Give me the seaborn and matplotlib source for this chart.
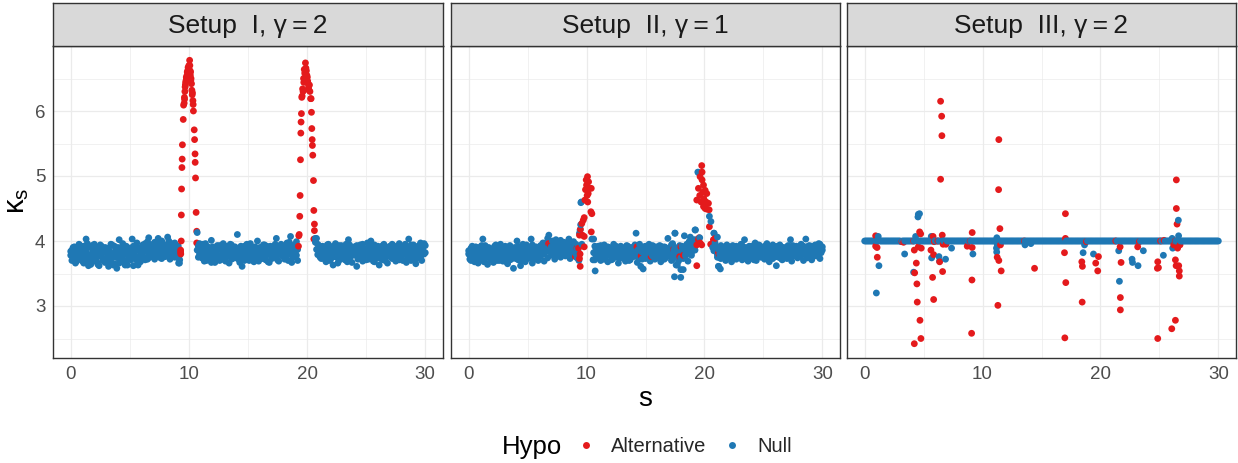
import matplotlib
matplotlib.use("Agg")
import matplotlib.pyplot as plt
from matplotlib.ticker import MultipleLocator
from matplotlib.lines import Line2D
import numpy as np
import pandas as pd
import seaborn as sns

# ---------------- data ----------------
panel_titles = ["Setup  I, γ\u2009=\u20092", "Setup  II, γ\u2009=\u20091", "Setup  III, γ\u2009=\u20092"]
hypo_levels = ["Alternative", "Null"]
x_ticks = [0, 10, 20, 30]
y_ticks = [3, 4, 5, 6]

s_grid = [
    0.0, 0.1, 0.2, 0.3, 0.4, 0.5, 0.6, 0.7, 0.8, 0.9,
    1.0, 1.1, 1.2, 1.3, 1.4, 1.5, 1.6, 1.7, 1.8, 1.9,
    2.0, 2.1, 2.2, 2.3, 2.4, 2.5, 2.6, 2.7, 2.8, 2.9,
    3.0, 3.1, 3.2, 3.3, 3.4, 3.5, 3.6, 3.7, 3.8, 3.9,
    4.0, 4.1, 4.2, 4.3, 4.4, 4.5, 4.6, 4.7, 4.8, 4.9,
    5.0, 5.1, 5.2, 5.3, 5.4, 5.5, 5.6, 5.7, 5.8, 5.9,
    6.0, 6.1, 6.2, 6.3, 6.4, 6.5, 6.6, 6.7, 6.8, 6.9,
    7.0, 7.1, 7.2, 7.3, 7.4, 7.5, 7.6, 7.7, 7.8, 7.9,
    8.0, 8.1, 8.2, 8.3, 8.4, 8.5, 8.6, 8.7, 8.8, 8.9,
    9.0, 9.1, 9.2, 9.3, 9.4, 9.5, 9.6, 9.7, 9.8, 9.9,
    10.0, 10.1, 10.2, 10.3, 10.4, 10.5, 10.6, 10.7, 10.8, 10.9,
    11.0, 11.1, 11.2, 11.3, 11.4, 11.5, 11.6, 11.7, 11.8, 11.9,
    12.0, 12.1, 12.2, 12.3, 12.4, 12.5, 12.6, 12.7, 12.8, 12.9,
    13.0, 13.1, 13.2, 13.3, 13.4, 13.5, 13.6, 13.7, 13.8, 13.9,
    14.0, 14.1, 14.2, 14.3, 14.4, 14.5, 14.6, 14.7, 14.8, 14.9,
    15.0, 15.1, 15.2, 15.3, 15.4, 15.5, 15.6, 15.7, 15.8, 15.9,
    16.0, 16.1, 16.2, 16.3, 16.4, 16.5, 16.6, 16.7, 16.8, 16.9,
    17.0, 17.1, 17.2, 17.3, 17.4, 17.5, 17.6, 17.7, 17.8, 17.9,
    18.0, 18.1, 18.2, 18.3, 18.4, 18.5, 18.6, 18.7, 18.8, 18.9,
    19.0, 19.1, 19.2, 19.3, 19.4, 19.5, 19.6, 19.7, 19.8, 19.9,
    20.0, 20.1, 20.2, 20.3, 20.4, 20.5, 20.6, 20.7, 20.8, 20.9,
    21.0, 21.1, 21.2, 21.3, 21.4, 21.5, 21.6, 21.7, 21.8, 21.9,
    22.0, 22.1, 22.2, 22.3, 22.4, 22.5, 22.6, 22.7, 22.8, 22.9,
    23.0, 23.1, 23.2, 23.3, 23.4, 23.5, 23.6, 23.7, 23.8, 23.9,
    24.0, 24.1, 24.2, 24.3, 24.4, 24.5, 24.6, 24.7, 24.8, 24.9,
    25.0, 25.1, 25.2, 25.3, 25.4, 25.5, 25.6, 25.7, 25.8, 25.9,
    26.0, 26.1, 26.2, 26.3, 26.4, 26.5, 26.6, 26.7, 26.8, 26.9,
    27.0, 27.1, 27.2, 27.3, 27.4, 27.5, 27.6, 27.7, 27.8, 27.9,
    28.0, 28.1, 28.2, 28.3, 28.4, 28.5, 28.6, 28.7, 28.8, 28.9,
    29.0, 29.1, 29.2, 29.3, 29.4, 29.5, 29.6, 29.7, 29.8, 29.9,
    30.0,
]

N = None  # no null point at this s

# Setup I: two null-hypothesis readings per s on s_grid
k_null_1 = [
    3.78, 3.86, 3.72, 3.91, 3.80, 3.69, 3.84, 3.75, 3.93, 3.71,
    3.82, 3.66, 3.88, 4.03, 3.74, 3.62, 3.90, 3.79, 3.68, 3.85,
    3.95, 3.73, 3.81, 3.64, 3.87, 3.77, 3.92, 3.70, 3.83, 3.67,
    3.89, 3.76, 3.61, 3.84, 3.72, 3.94, 3.80, 3.65, 3.86, 3.58,
    3.74, 4.02, 3.69, 3.83, 3.77, 3.91, 3.63, 3.80, 3.71, 3.88,
    3.75, 3.84, 4.03, 3.62, 3.79, 3.93, 3.70, 3.86, 3.76, 3.68,
    3.90, 3.81, 3.74, 3.96, 3.85, 3.72, 4.05, 3.88, 3.79, 3.93,
    3.83, 3.98, 3.76, 3.91, 4.04, 3.80, 3.87, 3.73, 3.95, 3.84,
    3.89, 3.78, 4.06, 3.86, 3.93, 3.75, 3.90, 3.82, 3.97, 3.79,
    3.88, 3.74, 3.66, N, N, N, N, N, N, N,
    N, N, N, N, N, N, N, 4.13, 3.92, 3.80,
    3.86, 3.74, 3.95, 3.69, 3.83, 3.78, 3.91, 3.72, 3.85, 4.01,
    3.77, 3.88, 3.67, 3.82, 3.93, 3.75, 3.70, 3.87, 3.79, 3.96,
    3.71, 3.84, 3.76, 3.90, 3.66, 3.81, 3.94, 3.73, 3.86, 3.78,
    3.83, 4.10, 3.72, 3.89, 3.77, 3.61, 3.85, 3.92, 3.74, 3.80,
    3.87, 3.70, 3.96, 3.79, 3.84, 3.68, 3.91, 3.75, 4.00, 3.82,
    3.76, 3.89, 3.73, 3.85, 3.94, 3.71, 3.80, 3.87, 3.67, 3.92,
    3.81, 3.74, 3.90, 3.78, 4.04, 3.86, 3.69, 3.83, 3.95, 3.77,
    3.88, 3.72, 3.84, 3.97, 3.79, 3.91, 4.07, 3.85, 3.75, 3.93,
    3.82, 3.99, 3.70, N, N, N, N, N, N, N,
    N, N, N, N, N, N, N, 4.04, 4.04, 3.95,
    3.80, 3.89, 3.73, 3.92, 3.77, 3.85, 3.68, 3.94, 3.79, 3.86,
    3.72, 3.90, 3.63, 3.83, 3.96, 3.75, 3.88, 3.70, 3.81, 3.93,
    3.77, 3.86, 3.71, 3.95, 3.80, 4.02, 3.74, 3.89, 3.67, 3.84,
    3.91, 3.78, 3.61, 3.87, 3.73, 3.94, 3.82, 3.69, 3.88, 3.76,
    3.85, 3.97, 3.72, 3.83, 4.00, 3.77, 3.90, 3.68, 3.86, 3.74,
    3.92, 3.63, 3.80, 3.88, 3.71, 3.95, 3.79, 3.84, 3.66, 3.90,
    3.76, 3.87, 3.73, 3.93, 3.82, 3.69, 3.89, 3.78, 3.96, 3.74,
    3.85, 3.70, 3.91, 3.81, 3.67, 3.88, 4.03, 3.77, 3.94, 3.83,
    3.72, 3.89, 3.65, 3.86, 3.79, 3.93, 3.75, 3.84, 3.91, 3.80,
    3.93,
]
k_null_1b = [
    3.84, 3.70, 3.90, 3.77, 3.66, 3.88, 3.74, 3.95, 3.81, 3.86,
    3.69, 3.92, 3.78, 3.83, 3.96, 3.71, 3.79, 3.64, 3.93, 3.75,
    3.80, 3.91, 3.68, 3.87, 3.62, 3.94, 3.76, 3.85, 3.73, 3.90,
    3.71, 3.83, 3.89, 3.68, 3.95, 3.79, 3.63, 3.92, 3.75, 3.81,
    3.90, 3.66, 3.86, 3.75, 3.96, 3.70, 3.84, 3.92, 3.63, 3.79,
    3.89, 3.71, 3.80, 3.92, 3.86, 3.74, 3.97, 3.63, 3.89, 3.82,
    3.77, 3.94, 3.86, 3.71, 3.91, 3.99, 3.80, 3.75, 3.94, 3.87,
    3.95, 3.72, 3.88, 3.82, 3.78, 3.96, 3.74, 4.00, 3.81, 3.90,
    3.76, 3.94, 3.85, 4.00, 3.72, 3.88, 3.80, 3.96, 3.75, 3.91,
    3.82, 3.92, 3.78, N, N, N, N, N, N, N,
    N, N, N, N, N, N, N, 3.86, 3.75, 3.96,
    3.79, 3.90, 3.73, 3.85, 3.96, 3.70, 3.82, 3.88, 3.76, 3.67,
    3.91, 3.75, 3.84, 3.79, 3.71, 3.89, 3.93, 3.78, 3.86, 3.74,
    3.88, 3.69, 3.92, 3.82, 3.79, 3.95, 3.72, 3.85, 3.76, 3.91,
    3.74, 3.86, 3.81, 3.67, 3.92, 3.83, 3.76, 3.70, 3.89, 3.95,
    3.78, 3.93, 3.84, 3.72, 3.90, 3.81, 3.73, 3.87, 3.77, 3.69,
    3.90, 3.79, 3.86, 3.94, 3.75, 3.83, 3.92, 3.68, 3.85, 3.78,
    3.73, 3.88, 3.83, 3.95, 3.77, 3.71, 3.90, 3.80, 3.86, 3.92,
    3.79, 3.91, 3.76, 3.86, 3.70, 3.98, 3.81, 3.67, 3.93, 3.84,
    3.92, 3.78, 3.87, N, N, N, N, N, N, N,
    N, N, N, N, N, N, N, 3.98, 3.87, 3.79,
    3.93, 3.75, 3.86, 3.81, 3.90, 3.72, 3.84, 3.78, 3.95, 3.70,
    3.87, 3.80, 3.92, 3.76, 3.84, 3.89, 3.66, 3.93, 3.78, 3.86,
    3.91, 3.73, 3.85, 3.80, 3.68, 3.88, 3.94, 3.76, 3.83, 3.90,
    3.79, 3.87, 3.93, 3.72, 3.85, 3.81, 3.90, 3.95, 3.74, 3.82,
    3.71, 3.89, 3.80, 3.92, 3.76, 3.86, 3.69, 3.94, 3.79, 3.88,
    3.84, 3.90, 3.73, 3.79, 3.93, 3.82, 3.70, 3.89, 3.87, 3.77,
    3.92, 3.80, 3.95, 3.74, 3.88, 3.83, 3.78, 3.91, 3.71, 3.86,
    3.76, 3.92, 3.82, 3.95, 3.89, 3.74, 3.85, 3.91, 3.70, 3.87,
    3.94, 3.78, 3.88, 3.73, 3.92, 3.83, 3.97, 3.70, 3.86, 3.96,
    3.82,
]
s_nx_1 = [9.13, 9.22]
k_nx_1 = [3.66, 3.71]

s_alt_1 = [
    9.30, 9.30, 9.31, 9.35, 9.36, 9.38, 9.41, 9.43, 9.45, 9.52,
    9.55, 9.60, 9.62, 9.63, 9.66, 9.68, 9.70, 9.72, 9.76, 9.78,
    9.80, 9.84, 9.86, 9.90, 9.93, 9.96, 10.00, 10.06, 10.08, 10.10,
    10.12, 10.14, 10.16, 10.18, 10.22, 10.25, 10.28, 10.30, 10.34, 10.36,
    10.38, 10.45, 10.48, 10.52, 10.53, 10.56, 10.61, 10.66, 10.66,
    19.27, 19.30, 19.33, 19.38, 19.41, 19.44, 19.47, 19.49, 19.52, 19.55,
    19.58, 19.62, 19.66, 19.70, 19.72, 19.76, 19.80, 19.84, 19.86, 19.90,
    19.94, 19.98, 20.02, 20.05, 20.08, 20.12, 20.16, 20.20, 20.24, 20.30,
    20.34, 20.37, 20.40, 20.43, 20.45, 20.48, 20.54, 20.57, 20.62, 20.62,
    20.57,
]
k_alt_1 = [
    3.83, 3.86, 3.80, 4.00, 4.40, 4.80, 5.13, 5.26, 5.48, 5.87,
    6.09, 6.12, 6.21, 6.18, 6.30, 6.37, 6.40, 6.44, 6.47, 6.52,
    6.50, 6.55, 6.60, 6.62, 6.67, 6.64, 6.70, 6.78, 6.70, 6.62,
    6.55, 6.60, 6.47, 6.50, 6.42, 6.32, 6.25, 6.28, 6.16, 6.10,
    6.00, 5.71, 5.56, 5.34, 5.21, 4.97, 4.44, 4.15, 3.97,
    3.92, 4.08, 4.10, 4.38, 4.70, 5.25, 5.66, 5.83, 5.96, 6.21,
    6.23, 6.34, 6.30, 6.50, 6.44, 6.64, 6.58, 6.60, 6.74, 6.66,
    6.62, 6.55, 6.52, 6.46, 6.42, 6.36, 6.32, 6.40, 6.30, 6.19,
    6.19, 5.98, 5.73, 5.56, 5.47, 5.32, 4.93, 4.47, 4.26, 4.16,
    4.03,
]

# Setup II
k_null_2 = [
    3.80, 3.72, 3.89, 3.76, 3.84, 3.68, 3.91, 3.78, 3.66, 3.86,
    3.74, 3.93, 4.03, 3.70, 3.82, 3.77, 3.64, 3.88, 3.73, 3.85,
    3.79, 3.67, 3.92, 3.81, 3.75, 3.87, 3.70, 3.95, 3.83, 3.69,
    3.86, 3.74, 3.90, 3.65, 3.80, 3.93, 3.72, 3.84, 3.58, 3.77,
    3.89, 4.00, 3.71, 3.83, 3.62, 3.91, 3.76, 3.85, 3.68, 3.94,
    3.73, 3.87, 3.79, 4.03, 3.66, 3.84, 3.90, 3.75, 3.81, 3.70,
    3.88, 3.76, 3.93, 3.82, 3.69, 3.86, 3.97, 3.74, 4.09, 3.83,
    3.91, 3.78, 3.95, 3.72, 4.02, 3.85, 3.80, 3.89, 3.75, 3.93,
    3.84, 3.98, 3.77, 3.90, 3.81, 4.03, 3.73, 3.87, 3.92, 3.79,
    3.86, 3.95, 3.74, 3.83, N, N, N, N, N, N,
    N, N, N, N, N, N, 4.03, 3.71, 3.88, 3.76,
    3.92, 3.81, 3.70, 3.87, 3.78, 3.94, 3.73, 3.85, 3.68, 3.90,
    3.79, 3.86, 3.72, 3.95, 3.83, 3.75, 3.89, 3.66, 3.81, 3.92,
    3.74, 3.88, 3.80, 3.69, 3.93, 3.77, 3.85, 3.71, 3.90, 3.82,
    3.76, 3.94, 4.12, 3.67, 3.87, 3.79, 3.61, 3.83, 3.57, 3.91,
    3.73, 3.86, 3.80, 3.95, 3.69, 3.84, 3.77, 3.90, 3.72, 3.88,
    3.81, 3.75, 3.93, 3.68, 3.86, 3.79, 3.91, 3.74, 3.84, 4.04,
    3.77, 3.89, 3.70, 3.96, 3.82, 4.12, 3.63, 3.87, 3.75, 3.93,
    3.56, 3.85, 3.73, 4.08, 3.80, 3.91, 3.69, 3.86, 4.06, 3.78,
    3.88, 3.94, 4.17, N, N, N, N, N, N, N,
    N, N, N, N, N, N, N, N, 4.12, 3.92,
    3.85, 4.06, 3.61, 3.80, 3.73, 3.91, 3.77, 3.86, 3.70, 3.94,
    3.82, 3.75, 3.89, 3.68, 3.93, 3.79, 3.84, 3.72, 3.90, 3.81,
    3.76, 3.95, 3.71, 3.87, 4.02, 3.78, 3.85, 3.69, 3.92, 3.80,
    3.74, 3.88, 3.83, 3.97, 3.70, 3.86, 3.79, 3.93, 3.75, 3.84,
    3.90, 3.72, 3.81, 3.96, 3.77, 3.68, 3.89, 3.85, 3.73, 3.92,
    3.80, 3.62, 3.87, 3.75, 3.94, 3.82, 3.71, 3.90, 3.78, 3.86,
    3.73, 3.93, 3.84, 4.02, 3.69, 3.88, 3.77, 3.91, 3.80, 3.74,
    3.89, 3.76, 3.95, 3.83, 3.70, 3.87, 4.03, 3.79, 3.92, 3.75,
    3.84, 3.71, 3.90, 3.81, 3.94, 3.77, 3.86, 3.96, 3.73, 3.88,
    3.91,
]
k_null_2b = [
    3.85, 3.78, 3.70, 3.92, 3.80, 3.87, 3.74, 3.89, 3.82, 3.73,
    3.91, 3.79, 3.86, 3.68, 3.93, 3.81, 3.75, 3.90, 3.84, 3.71,
    3.88, 3.76, 3.83, 3.94, 3.70, 3.80, 3.91, 3.77, 3.86, 3.74,
    3.79, 3.92, 3.68, 3.85, 3.76, 3.71, 3.89, 3.80, 3.74, 3.90,
    3.73, 3.84, 3.92, 3.77, 3.88, 3.70, 3.95, 3.81, 3.92, 3.75,
    3.90, 3.79, 3.86, 3.73, 3.94, 3.80, 3.72, 3.91, 3.84, 3.87,
    3.78, 3.93, 3.85, 3.97, 3.80, 3.90, 3.84, 4.04, 3.89, 3.94,
    3.86, 4.00, 3.82, 3.93, 3.89, 3.79, 3.96, 3.84, 4.01, 3.88,
    3.95, 3.81, 3.90, 3.86, 3.97, 3.83, 3.92, 3.79, 3.87, 3.99,
    3.91, 3.80, 3.88, 3.92, N, N, N, N, N, N,
    N, N, N, N, N, N, 3.82, 3.92, 3.78, 3.87,
    3.84, 3.75, 3.93, 3.80, 3.89, 3.72, 3.86, 3.78, 3.91, 3.82,
    3.87, 3.71, 3.90, 3.78, 3.85, 3.92, 3.76, 3.83, 3.89, 3.74,
    3.90, 3.81, 3.73, 3.86, 3.79, 3.92, 3.70, 3.88, 3.77, 3.85,
    3.83, 3.78, 3.91, 3.85, 3.74, 3.95, 3.82, 3.72, 3.87, 3.80,
    3.92, 3.77, 3.88, 3.73, 3.86, 3.80, 3.93, 3.76, 3.84, 3.91,
    3.74, 3.87, 3.81, 3.92, 3.78, 3.85, 3.72, 3.90, 3.83, 3.79,
    3.88, 3.80, 3.94, 3.72, 3.86, 3.90, 3.78, 3.83, 3.69, 3.87,
    3.74, 3.92, 3.81, 3.88, 3.77, 3.95, 3.84, 3.99, 3.90, 3.82,
    3.93, 4.02, 3.86, N, N, N, N, N, N, N,
    N, N, N, N, N, N, N, N, 3.85, 3.97,
    3.90, 3.79, 3.87, 3.74, 3.93, 3.82, 3.88, 3.76, 3.91, 3.83,
    3.78, 3.91, 3.84, 3.89, 3.73, 3.86, 3.80, 3.92, 3.75, 3.88,
    3.89, 3.81, 3.93, 3.77, 3.85, 3.90, 3.72, 3.87, 3.82, 3.76,
    3.92, 3.79, 3.71, 3.86, 3.88, 3.76, 3.94, 3.81, 3.85, 3.90,
    3.78, 3.89, 3.93, 3.82, 3.87, 3.91, 3.74, 3.80, 3.94, 3.79,
    3.88, 3.76, 3.92, 3.84, 3.79, 3.73, 3.90, 3.83, 3.87, 3.75,
    3.91, 3.80, 3.76, 3.89, 3.85, 3.93, 3.82, 3.78, 3.92, 3.86,
    3.77, 3.90, 3.84, 3.79, 3.92, 3.82, 3.88, 3.74, 3.86, 3.93,
    3.80, 3.92, 3.85, 3.77, 3.89, 3.83, 3.91, 3.81, 3.95, 3.82,
    3.86,
]
s_nx_2 = [
    9.40, 9.45, 9.50, 9.52, 9.55, 9.35, 9.60, 10.55, 10.73, 10.45,
    19.44, 19.50, 19.24, 19.30, 19.60, 20.42, 20.55, 20.82, 20.70, 21.19,
    21.35, 21.00, 21.10, 17.46, 17.99, 18.20, 17.70, 17.50,
]
k_nx_2 = [
    4.12, 4.17, 4.25, 4.59, 4.60, 3.70, 3.95, 3.71, 3.54, 4.03,
    5.06, 5.05, 4.17, 4.02, 4.05, 4.38, 4.30, 4.12, 3.90, 3.61,
    3.57, 3.85, 3.75, 3.45, 3.44, 3.56, 3.63, 4.12,
]
s_alt_2 = [
    9.46, 9.40, 9.32, 9.45, 9.40, 9.48, 9.60, 9.72, 9.80, 9.65,
    9.86, 9.91, 9.97, 10.08, 10.17, 10.22, 10.14, 10.00, 10.05, 10.40,
    10.45, 10.37, 10.40, 9.80, 9.80, 9.18, 9.05, 6.78, 6.92, 10.10,
    14.27, 14.63, 15.48, 17.37, 18.00, 18.20, 17.90,
    19.77, 19.80, 19.63, 19.80, 19.49, 19.92, 20.06, 20.20, 19.35, 19.72,
    20.14, 20.34, 19.92, 20.06, 20.20, 20.40, 19.60, 19.85, 19.95, 19.35,
    19.49, 19.63, 19.77, 19.35, 20.42, 20.53, 20.76, 20.90, 21.27, 21.19,
    19.55,
]
k_alt_2 = [
    3.61, 3.73, 3.89, 3.80, 4.09, 4.18, 4.27, 4.32, 4.36, 4.09,
    4.63, 4.79, 4.94, 4.99, 4.91, 4.81, 4.73, 4.86, 4.70, 4.81,
    4.42, 4.45, 4.14, 4.07, 3.91, 3.89, 3.76, 3.96, 3.94, 4.60,
    3.91, 3.77, 3.76, 3.87, 3.91, 3.78, 3.76,
    5.16, 5.06, 4.99, 4.94, 4.81, 4.86, 4.78, 4.73, 4.63, 4.60,
    4.60, 4.58, 4.53, 4.50, 4.49, 4.48, 4.70, 4.75, 4.65, 3.94,
    4.02, 3.97, 3.94, 3.62, 4.22, 3.95, 4.02, 4.04, 3.79, 3.82,
    4.05,
]

# Setup III
k_null_3 = [
    4.00, 4.00, 4.00, 4.00, 4.00, 4.00, 4.00, 4.00, 4.00, 4.00,
    4.00, 4.00, 4.01, 4.00, 4.00, 4.00, 4.00, 4.00, 4.00, 4.00,
    4.00, 4.00, 4.00, 4.00, 4.00, 4.00, 4.00, 4.00, 4.00, 4.00,
    4.00, 3.99, 4.00, 4.00, 4.00, 4.00, 4.00, 4.00, 4.00, 4.00,
    4.00, 4.00, 4.00, 4.01, 4.00, 4.00, 4.00, 4.00, 4.00, 4.00,
    4.00, 4.00, 4.00, 4.00, 4.00, 4.00, 4.00, 4.00, 4.00, 4.00,
    4.00, 4.00, 4.00, 4.00, 4.00, 4.00, 4.00, 4.00, 4.00, 4.00,
    4.00, 4.00, 4.00, 4.00, 4.00, 4.00, 4.00, 4.00, 4.00, 4.00,
    4.00, 4.00, 4.00, 4.00, 4.00, 4.00, 4.00, 4.00, 4.00, 4.00,
    4.00, 4.00, 4.00, 4.00, 4.00, 4.00, 4.00, 4.00, 4.00, 4.00,
    4.00, 4.00, 4.00, 4.00, 4.00, 4.00, 4.00, 4.00, 4.00, 4.00,
    4.00, 4.00, 4.01, 4.00, 4.00, 4.00, 4.00, 4.00, 4.00, 4.00,
    4.00, 4.00, 4.00, 4.00, 4.00, 4.00, 4.00, 4.00, 4.00, 4.00,
    4.00, 4.00, 4.00, 4.00, 4.00, 4.00, 4.00, 4.00, 4.00, 4.00,
    4.00, 4.00, 4.00, 4.00, 4.00, 4.00, 4.00, 4.00, 4.00, 4.00,
    4.00, 4.00, 4.00, 4.00, 4.00, 4.00, 4.00, 4.00, 4.00, 4.00,
    4.00, 4.00, 4.00, 4.00, 4.00, 4.00, 4.00, 4.00, 4.00, 4.00,
    4.00, 4.00, 4.00, 4.00, 4.00, 4.00, 4.00, 4.00, 4.00, 4.00,
    4.00, 4.00, 4.00, 4.00, 4.00, 4.00, 4.00, 4.00, 4.00, 4.00,
    4.00, 4.00, 4.00, 4.00, 4.00, 4.00, 4.00, 4.00, 4.00, 4.00,
    4.00, 4.00, 4.00, 4.00, 4.00, 4.00, 4.00, 4.00, 4.00, 4.00,
    4.00, 4.00, 4.00, 4.00, 4.00, 4.00, 4.00, 4.00, 4.00, 4.00,
    4.00, 4.00, 4.00, 4.00, 4.00, 4.00, 4.00, 4.00, 4.00, 4.00,
    4.00, 4.00, 4.00, 4.00, 4.00, 4.00, 4.00, 4.00, 4.00, 4.00,
    4.00, 4.00, 4.00, 4.00, 4.00, 4.00, 4.00, 4.00, 4.00, 4.00,
    4.00, 4.00, 4.00, 4.00, 4.00, 4.00, 4.00, 4.00, 4.00, 4.00,
    4.00, 4.00, 4.00, 4.00, 4.00, 4.00, 4.00, 4.00, 4.00, 4.00,
    4.00, 4.00, 4.00, 4.00, 4.00, 4.00, 4.00, 4.00, 4.00, 4.00,
    4.00, 4.00, 4.00, 4.00, 4.00, 4.00, 4.00, 4.00, 4.00, 4.00,
    4.00, 4.00, 4.00, 4.00, 4.00, 4.00, 4.00, 4.00, 4.00, 4.00,
    4.00,
]
s_nx_3 = [
    0.99, 1.21, 1.15, 3.39, 4.55, 4.65, 4.52, 4.32, 4.15, 5.68,
    6.30, 6.35, 6.86, 7.37, 9.18, 11.21, 11.18, 11.20, 13.60, 14.10,
    18.53, 19.41, 18.65, 21.55, 21.61, 22.68, 22.72, 23.19, 23.64, 25.34,
    26.61, 26.63, 26.08, 26.13, 5.65, 11.25,
]
k_nx_3 = [
    3.20, 3.62, 4.07, 3.80, 4.41, 4.42, 4.37, 4.07, 3.52, 3.74,
    3.76, 3.69, 3.72, 3.89, 3.80, 4.05, 3.89, 3.83, 3.94, 3.96,
    3.82, 3.80, 3.94, 3.85, 3.38, 3.72, 3.67, 3.62, 3.85, 3.78,
    4.32, 4.08, 4.04, 3.89, 4.07, 3.94,
]
s_alt_3 = [
    6.44, 6.53, 6.55, 6.44, 11.38, 11.36, 11.47, 11.30, 17.03, 17.06,
    16.98, 26.44, 26.44, 26.50, 4.21, 4.77, 4.69, 4.46, 4.43, 4.24,
    4.38, 4.21, 4.66, 4.75, 4.55, 4.80, 5.85, 5.76, 5.62, 5.85,
    6.58, 6.61, 6.36, 5.80, 9.12, 9.12, 9.10, 9.07, 8.70, 11.24,
    11.38, 11.58, 11.52, 14.41, 16.95, 17.03, 18.42, 18.47, 18.45, 19.60,
    19.83, 19.77, 21.67, 21.75, 21.69, 21.69, 23.16, 24.86, 24.92, 24.83,
    24.86, 26.36, 26.05, 26.36, 26.42, 26.64, 26.69, 26.69, 26.55, 26.22,
    26.75, 0.93, 0.93, 1.05, 1.07, 6.65, 6.90,
    3.16, 4.15, 5.90, 8.95, 13.55, 18.80, 21.30, 23.30, 25.10, 25.40,
    26.35, 3.30, 6.20,
]
k_alt_3 = [
    6.15, 5.92, 5.62, 4.95, 5.56, 4.79, 4.19, 3.01, 4.42, 3.36,
    2.51, 4.94, 4.50, 4.26, 2.42, 2.50, 2.78, 3.06, 3.34, 3.51,
    3.66, 3.86, 4.14, 4.11, 3.91, 3.89, 3.10, 3.44, 3.86, 3.79,
    4.09, 3.53, 3.68, 4.07, 4.13, 3.90, 3.40, 2.58, 3.92, 3.75,
    3.70, 3.54, 3.94, 3.58, 3.82, 4.04, 3.68, 3.61, 3.06, 3.66,
    3.76, 3.54, 3.91, 3.67, 3.13, 2.94, 3.91, 3.68, 3.59, 3.58,
    2.50, 2.78, 2.65, 3.71, 3.62, 3.62, 3.54, 3.46, 3.89, 3.94,
    3.94, 4.08, 3.92, 3.90, 3.75, 3.95, 3.95,
    3.99, 4.00, 3.99, 4.00, 4.00, 3.99, 4.00, 3.99, 4.00, 4.01,
    4.00, 3.98, 4.00,
]

# ---------------- build tidy frames ----------------
def panel_frame(k_null_layers, s_nx, k_nx, s_alt, k_alt):
    parts = []
    for layer in k_null_layers:
        assert len(layer) == len(s_grid)
        parts.append(pd.DataFrame({"s": s_grid, "k": layer, "Hypo": "Null"}).dropna())
    parts.append(pd.DataFrame({"s": s_nx, "k": k_nx, "Hypo": "Null"}))
    parts.append(pd.DataFrame({"s": s_alt, "k": k_alt, "Hypo": "Alternative"}))
    df = pd.concat(parts, ignore_index=True)
    df["k"] = df["k"].astype(float)
    return df.sort_values("s", kind="stable").reset_index(drop=True)

frames = [
    panel_frame([k_null_1, k_null_1b], s_nx_1, k_nx_1, s_alt_1, k_alt_1),
    panel_frame([k_null_2, k_null_2b], s_nx_2, k_nx_2, s_alt_2, k_alt_2),
    panel_frame([k_null_3], s_nx_3, k_nx_3, s_alt_3, k_alt_3),
]

# ---------------- styling ----------------
sns.set_style("white")
plt.rcParams["font.family"] = ["Liberation Sans", "DejaVu Sans"]
plt.rcParams["mathtext.fontset"] = "custom"
plt.rcParams["mathtext.rm"] = "Liberation Sans"

palette = {"Alternative": "#E41A1C", "Null": "#1F78B4"}
W, H = 1238, 463
fig = plt.figure(figsize=(W / 100, H / 100), dpi=100)

panel_px = [(53, 443), (451, 840), (847, 1236)]
top_px, bot_px, strip_top_px = 46, 358, 3
border = "#333333"

for i, (df, (x0, x1)) in enumerate(zip(frames, panel_px)):
    ax = fig.add_axes([x0 / W, 1 - bot_px / H, (x1 - x0) / W, (bot_px - top_px) / H])
    sns.scatterplot(data=df, x="s", y="k", hue="Hypo", palette=palette,
                    s=24, linewidth=0, legend=False, ax=ax, zorder=3)
    ax.set_xlim(-1.5, 31.5)
    ax.set_ylim(2.2, 7.0)
    ax.set_xticks(x_ticks)
    ax.set_yticks(y_ticks)
    ax.xaxis.set_minor_locator(MultipleLocator(5))
    ax.yaxis.set_minor_locator(MultipleLocator(0.5))
    ax.grid(which="major", color="#EBEBEB", linewidth=0.9, zorder=0)
    ax.grid(which="minor", color="#EBEBEB", linewidth=0.5, zorder=0)
    ax.set_axisbelow(True)
    for sp in ax.spines.values():
        sp.set_color(border)
        sp.set_linewidth(1.0)
    ax.tick_params(which="major", length=3.5, width=0.8, color=border,
                   labelsize=13.5, labelcolor="#4D4D4D", pad=2)
    ax.tick_params(which="minor", length=0)
    ax.set_xlabel("")
    ax.set_ylabel("")
    if i > 0:
        ax.tick_params(axis="y", which="both", left=False, labelleft=False)

    sax = fig.add_axes([x0 / W, 1 - top_px / H, (x1 - x0) / W, (top_px - strip_top_px) / H])
    sax.set_facecolor("#D9D9D9")
    sax.set_xticks([])
    sax.set_yticks([])
    for sp in sax.spines.values():
        sp.set_color(border)
        sp.set_linewidth(1.0)
    sax.text(0.5, 0.47, panel_titles[i], ha="center", va="center",
             fontsize=19, color="#1A1A1A", transform=sax.transAxes)

fig.text(645.5 / W, 1 - 399 / H, "s", ha="center", va="center", fontsize=20, color="black")
fig.text(17 / W, 1 - 201 / H, r"$\mathregular{κ_s}$", ha="center", va="center",
         rotation=90, fontsize=21, color="black")

fig.text(532 / W, 1 - 447 / H, "Hypo", ha="center", va="center", fontsize=18.5, color="black")
handles = [Line2D([], [], marker="o", linestyle="", markersize=5,
                  markerfacecolor=palette[h], markeredgewidth=0) for h in hypo_levels]
fig.legend(handles, hypo_levels, ncol=2, frameon=False, loc="center",
           bbox_to_anchor=(684 / W, 1 - 447 / H), fontsize=14.5,
           handletextpad=0.75, columnspacing=0.8, handlelength=1.0)

fig.savefig("out.png", dpi=100)
